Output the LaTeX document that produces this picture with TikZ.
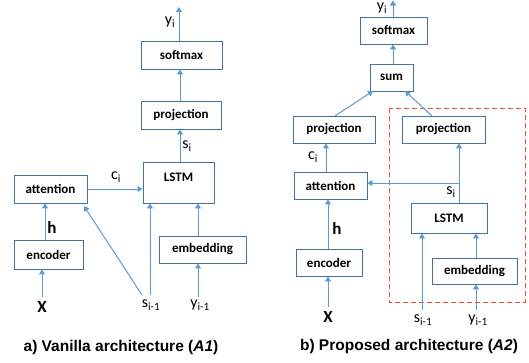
\documentclass[tikz,border=0pt]{standalone}
\usepackage{fontspec}
\setmainfont{Carlito}
\newfontfamily\capfont{Liberation Sans}
\usetikzlibrary{arrows.meta}
\definecolor{boxc}{HTML}{41719C}
\definecolor{arrc}{HTML}{5B9BD5}
\definecolor{redc}{HTML}{F24848}
\tikzset{
  box/.style={draw=boxc, line width=0.9pt, fill=white, inner sep=0pt, font=\fontsize{13}{15}\selectfont\bfseries},
  arr/.style={draw=arrc, line width=1pt, -{Triangle[width=6pt,length=5pt]}},
  lbl/.style={inner sep=0pt, font=\fontsize{16}{18}\selectfont},
  blbl/.style={inner sep=0pt, font=\fontsize{17}{19}\selectfont\bfseries},
  captext/.style={inner sep=0pt, font=\capfont\fontsize{15.5}{18}\selectfont\bfseries},
  txt/.style={inner sep=0pt, font=\fontsize{13}{15}\selectfont\bfseries}
}
\begin{document}
\begin{tikzpicture}[x=1pt,y=-1pt]
\useasboundingbox (0,0) rectangle (529,362);
% ---------- left panel ----------
\node[box, minimum width=81pt, minimum height=28pt] (smL) at (181.5,55) {softmax};
\node[box, minimum width=80pt, minimum height=28pt] (prL) at (181,115) {projection};
\node[box, minimum width=71pt, minimum height=41pt] (lsL) at (178.5,182.5) {};
\node[txt] (lsLt) at (178.5,177) {LSTM};
\node[box, minimum width=73pt, minimum height=28pt] (atL) at (50.5,189) {attention};
\node[box, minimum width=69pt, minimum height=29pt] (enL) at (48.5,254.5) {encoder};
\node[box, minimum width=87pt, minimum height=27pt] (emL) at (202.5,249.5) {embedding};

\coordinate (yiLt) at (179,7);
\node[lbl] (yiL) at (170,22) {y\textsubscript{i}};
\node[lbl] (siL) at (187,146) {s\textsubscript{i}};
\node[lbl] (ciL) at (116,177) {c\textsubscript{i}};
\node[blbl] (hL) at (52,228) {h};
\node[blbl] (xL) at (42,307) {X};
\node[lbl] (sprevL) at (151,305) {s\textsubscript{i-1}};
\node[lbl] (yprevL) at (200,305) {y\textsubscript{i-1}};

\draw[arr] (smL.north -| yiLt) -- (yiLt);
\draw[arr] (prL.north -| 180,0) -- (smL.south -| 180,0);
\draw[arr] (lsL.north -| 180,0) -- (prL.south -| 180,0);
\draw[arr] (atL.east) -- (lsL.west |- atL.east);
\draw[arr] (enL.north -| 45,0) -- (atL.south -| 45,0);
\draw[arr] (xL.north |- 0,297) -- (enL.south -| xL.north);
\draw[arr] (150,295) -- (lsL.south -| 150,0);
\draw[arr] (142,295) -- (84,206);
\draw[arr] (198,297) -- (emL.south -| 198,0);
\draw[arr] (emL.north -| 198,0) -- (lsL.south -| 198,0);

\node[captext] (capL) at (121,347) {a) Vanilla architecture (\textit{A1})};

% ---------- right panel ----------
\draw[redc, line width=1pt, dash pattern=on 5pt off 3pt] (389,108) rectangle (525,302);
\node[box, minimum width=67pt, minimum height=27pt] (smR) at (393.5,30.5) {softmax};
\node[box, minimum width=43pt, minimum height=27pt] (suR) at (391.5,77.5) {sum};
\node[box, minimum width=82pt, minimum height=27pt] (prA) at (334,129.5) {projection};
\node[box, minimum width=83pt, minimum height=27pt] (prB) at (443.5,129.5) {projection};
\node[box, minimum width=73pt, minimum height=27pt] (atR) at (330.5,185.5) {attention};
\node[box, minimum width=76pt, minimum height=30pt] (lsR) at (449,218) {LSTM};
\node[box, minimum width=66pt, minimum height=27pt] (enR) at (329,262.5) {encoder};
\node[box, minimum width=85pt, minimum height=26pt] (emR) at (474.5,271) {embedding};

\coordinate (yiRt) at (393,0.5);
\coordinate (br) at (459,183);
\node[lbl] (yiR) at (382,8) {y\textsubscript{i}};
\node[lbl] (ciR) at (313,157) {c\textsubscript{i}};
\node[lbl] (siR) at (451,192) {s\textsubscript{i}};
\node[blbl] (hR) at (337,229) {h};
\node[blbl] (xR) at (328,317) {X};
\node[lbl] (sprevR) at (423,320) {s\textsubscript{i-1}};
\node[lbl] (yprevR) at (478,320) {y\textsubscript{i-1}};

\draw[arr] (smR.north -| yiRt) -- (yiRt);
\draw[arr] (suR.north -| 393,0) -- (smR.south -| 393,0);
\draw[arr] (335,116) -- (373,91);
\draw[arr] (432,116) -- (405,91);
\draw[arr] (atR.north -| 326,0) -- (prA.south -| 326,0);
\draw[draw=arrc, line width=1pt] (lsR.north -| br) -- (br);
\draw[arr] (br) -- (prB.south -| br);
\draw[arr] (br) -- (atR.east |- br);
\draw[arr] (enR.north -| 328,0) -- (atR.south -| 328,0);
\draw[arr] (328,307) -- (enR.south -| 328,0);
\draw[arr] (422,310) -- (lsR.south -| 422,0);
\draw[arr] (476,310) -- (emR.south -| 476,0);
\draw[arr] (emR.north -| 476,0) -- (lsR.south -| 476,0);

\node[captext] (capR) at (409,346) {b) Proposed architecture (\textit{A2})};
\end{tikzpicture}
\end{document}
